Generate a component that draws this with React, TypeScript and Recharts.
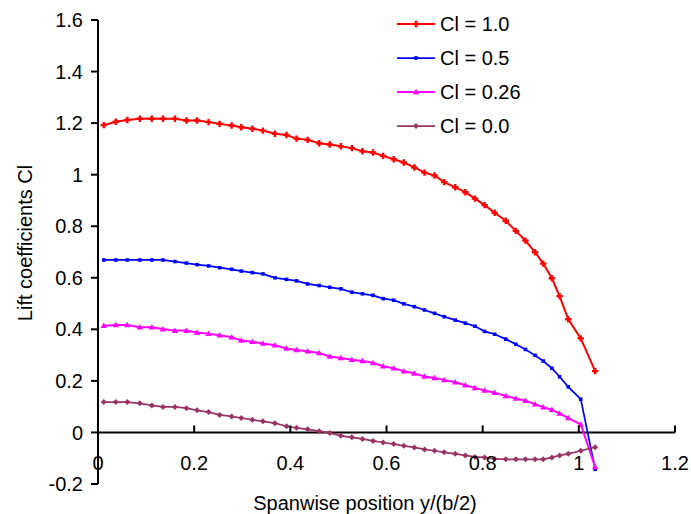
import React from 'react';
import { LineChart, Line, XAxis, YAxis, ReferenceLine, Legend } from 'recharts';

// Spanwise stations y/(b/2)
const spanX = [
  0.012, 0.037, 0.061, 0.087, 0.112, 0.135, 0.16, 0.184, 0.206, 0.23, 0.253, 0.278, 0.298,
  0.321, 0.343, 0.368, 0.392, 0.413, 0.436, 0.46, 0.482, 0.505, 0.528, 0.55, 0.572, 0.593,
  0.615, 0.636, 0.658, 0.679, 0.7, 0.72, 0.743, 0.764, 0.784, 0.804, 0.825, 0.848, 0.869,
  0.889, 0.909, 0.926, 0.944, 0.96, 0.978, 1.004, 1.034,
];

const cl10 = [
  1.192, 1.205, 1.212, 1.217, 1.217, 1.217, 1.217, 1.21, 1.21, 1.204, 1.197, 1.191, 1.184,
  1.178, 1.171, 1.159, 1.154, 1.14, 1.135, 1.122, 1.117, 1.11, 1.103, 1.091, 1.086, 1.073,
  1.06, 1.047, 1.028, 1.008, 0.997, 0.971, 0.951, 0.932, 0.907, 0.882, 0.852, 0.821, 0.782,
  0.744, 0.699, 0.655, 0.598, 0.529, 0.439, 0.365, 0.238,
];

const cl05 = [
  0.669, 0.669, 0.669, 0.669, 0.669, 0.669, 0.663, 0.657, 0.651, 0.646, 0.639, 0.633, 0.626,
  0.62, 0.615, 0.6, 0.594, 0.588, 0.576, 0.57, 0.563, 0.557, 0.544, 0.538, 0.532, 0.519,
  0.513, 0.499, 0.488, 0.475, 0.462, 0.449, 0.436, 0.424, 0.412, 0.392, 0.381, 0.362, 0.342,
  0.322, 0.299, 0.277, 0.249, 0.216, 0.177, 0.129, -0.143,
];

const cl026 = [
  0.414, 0.417, 0.417, 0.408, 0.408, 0.401, 0.395, 0.395, 0.388, 0.383, 0.377, 0.369, 0.357,
  0.352, 0.345, 0.338, 0.326, 0.32, 0.315, 0.308, 0.295, 0.289, 0.282, 0.277, 0.27, 0.257,
  0.249, 0.238, 0.229, 0.217, 0.211, 0.204, 0.195, 0.183, 0.173, 0.163, 0.154, 0.142, 0.132,
  0.123, 0.11, 0.098, 0.088, 0.074, 0.056, 0.031, -0.134,
];

const cl00 = [
  0.118, 0.118, 0.118, 0.113, 0.105, 0.099, 0.099, 0.094, 0.086, 0.079, 0.068, 0.062, 0.056,
  0.049, 0.043, 0.036, 0.024, 0.018, 0.012, 0.005, -0.002, -0.013, -0.019, -0.025, -0.033,
  -0.039, -0.045, -0.052, -0.058, -0.066, -0.071, -0.077, -0.083, -0.089, -0.095, -0.097,
  -0.103, -0.104, -0.104, -0.104, -0.104, -0.104, -0.097, -0.089, -0.083, -0.071, -0.057,
];

const seriesKeys = ['cl10', 'cl05', 'cl026', 'cl00'];
const seriesNames = ['Cl = 1.0', 'Cl = 0.5', 'Cl = 0.26', 'Cl = 0.0'];
const xTicks = [0, 0.2, 0.4, 0.6, 0.8, 1, 1.2];
const yTicks = [-0.2, 0, 0.2, 0.4, 0.6, 0.8, 1, 1.2, 1.4, 1.6];

const data = spanX.map((x, i) => ({
  x,
  cl10: cl10[i],
  cl05: cl05[i],
  cl026: cl026[i],
  cl00: cl00[i],
}));

// layout / style
const FONT = '"Liberation Sans", Arial, Helvetica, sans-serif';
const W = 691;
const H = 514;
const M_TOP = 20;
const M_LEFT = 38;
const M_RIGHT = 16;
const Y_AXIS_W = 60;
const X_AXIS_H = 30;
const PLOT_H = H - M_TOP - X_AXIS_H;
const Y_MIN = -0.2;
const Y_MAX = 1.6;
const ZERO_Y = M_TOP + ((Y_MAX - 0) / (Y_MAX - Y_MIN)) * PLOT_H;

type Kind = 'plus' | 'square' | 'triangle' | 'diamond';

const seriesStyle: Record<string, { color: string; kind: Kind; width: number }> = {
  cl10: { color: '#FF0000', kind: 'plus', width: 2 },
  cl05: { color: '#0000FF', kind: 'square', width: 1.75 },
  cl026: { color: '#FF00FF', kind: 'triangle', width: 2 },
  cl00: { color: '#993366', kind: 'diamond', width: 1.75 },
};

function Marker({ kind, cx, cy, color }: { kind: Kind; cx: number; cy: number; color: string }) {
  if (cx == null || cy == null || isNaN(cx) || isNaN(cy)) return null;
  switch (kind) {
    case 'plus':
      return (
        <path
          d={`M${cx - 3.2},${cy - 1.2}h2v-2h2.4v2h2v2.4h-2v2h-2.4v-2h-2z`}
          fill={color}
        />
      );
    case 'square':
      return <rect x={cx - 1.8} y={cy - 1.8} width={3.6} height={3.6} fill={color} />;
    case 'triangle':
      return <path d={`M${cx},${cy - 3.2}L${cx + 3.2},${cy + 2.3}L${cx - 3.2},${cy + 2.3}Z`} fill={color} />;
    case 'diamond':
    default:
      return <path d={`M${cx},${cy - 3}L${cx + 3},${cy}L${cx},${cy + 3}L${cx - 3},${cy}Z`} fill={color} />;
  }
}

const makeDot = (key: string) => (p: any) => (
  <Marker
    key={`${key}-${p.index}`}
    kind={seriesStyle[key].kind}
    cx={p.cx}
    cy={p.cy}
    color={seriesStyle[key].color}
  />
);

const XTick = (props: any) => {
  const { x, payload } = props;
  return (
    <g>
      <line x1={x} x2={x} y1={ZERO_Y} y2={ZERO_Y - 7} stroke="#000" strokeWidth={2} />
      <text x={x} y={ZERO_Y + 38} textAnchor="middle" fontSize={20} fontFamily={FONT} fill="#000">
        {String(payload.value)}
      </text>
    </g>
  );
};

const renderLegend = (props: any) => {
  const payload = [...(props.payload || [])].sort(
    (a: any, b: any) => seriesKeys.indexOf(a.dataKey) - seriesKeys.indexOf(b.dataKey)
  );
  return (
    <div style={{ fontFamily: FONT, fontSize: 20, color: '#000' }}>
      {payload.map((entry: any, i: number) => {
        const st = seriesStyle[entry.dataKey as string];
        return (
          <div key={i} style={{ display: 'flex', alignItems: 'center', height: 34 }}>
            <svg width={38} height={34} style={{ display: 'block' }}>
              <line x1={0} x2={38} y1={17} y2={17} stroke={st.color} strokeWidth={st.width} />
              <Marker kind={st.kind} cx={19} cy={17} color={st.color} />
            </svg>
            <span style={{ marginLeft: 5, lineHeight: '34px', whiteSpace: 'nowrap' }}>{entry.value}</span>
          </div>
        );
      })}
    </div>
  );
};

export default function App() {
  return (
    <div style={{ position: 'absolute', left: 0, top: 0, width: W, height: H, background: '#fff' }}>
      <LineChart
        width={W}
        height={H}
        data={data}
        margin={{ top: M_TOP, right: M_RIGHT, left: M_LEFT, bottom: 0 }}
      >
        <XAxis
          dataKey="x"
          type="number"
          domain={[0, 1.2]}
          ticks={xTicks}
          axisLine={false}
          tickLine={false}
          height={X_AXIS_H}
          tick={<XTick />}
          interval={0}
          allowDataOverflow
          label={{
            content: () => (
              <text x={365} y={510} textAnchor="middle" fontSize={20} fontFamily={FONT} fill="#000">
                Spanwise position y/(b/2)
              </text>
            ),
          }}
        />
        <YAxis
          type="number"
          domain={[Y_MIN, Y_MAX]}
          ticks={yTicks}
          width={Y_AXIS_W}
          interval={0}
          axisLine={{ stroke: '#000', strokeWidth: 2 }}
          tickLine={{ stroke: '#000', strokeWidth: 2 }}
          tickSize={7}
          tickMargin={8}
          tick={{ fill: '#000', fontSize: 20, fontFamily: FONT }}
          allowDataOverflow
          label={{
            content: () => (
              <text
                transform="translate(31.5,243) rotate(-90)"
                textAnchor="middle"
                fontSize={20}
                fontFamily={FONT}
                fill="#000"
              >
                Lift coefficients Cl
              </text>
            ),
          }}
        />
        <ReferenceLine y={0} stroke="#000" strokeWidth={2} />
        {seriesKeys.map((k, i) => (
          <Line
            key={k}
            type="linear"
            dataKey={k}
            name={seriesNames[i]}
            stroke={seriesStyle[k].color}
            strokeWidth={seriesStyle[k].width}
            dot={makeDot(k)}
            activeDot={false}
            isAnimationActive={false}
          />
        ))}
        <Legend
          layout="vertical"
          align="center"
          verticalAlign="middle"
          content={renderLegend}
          wrapperStyle={{ left: 397, top: 7, width: 170, height: 'auto' }}
        />
      </LineChart>
    </div>
  );
}
